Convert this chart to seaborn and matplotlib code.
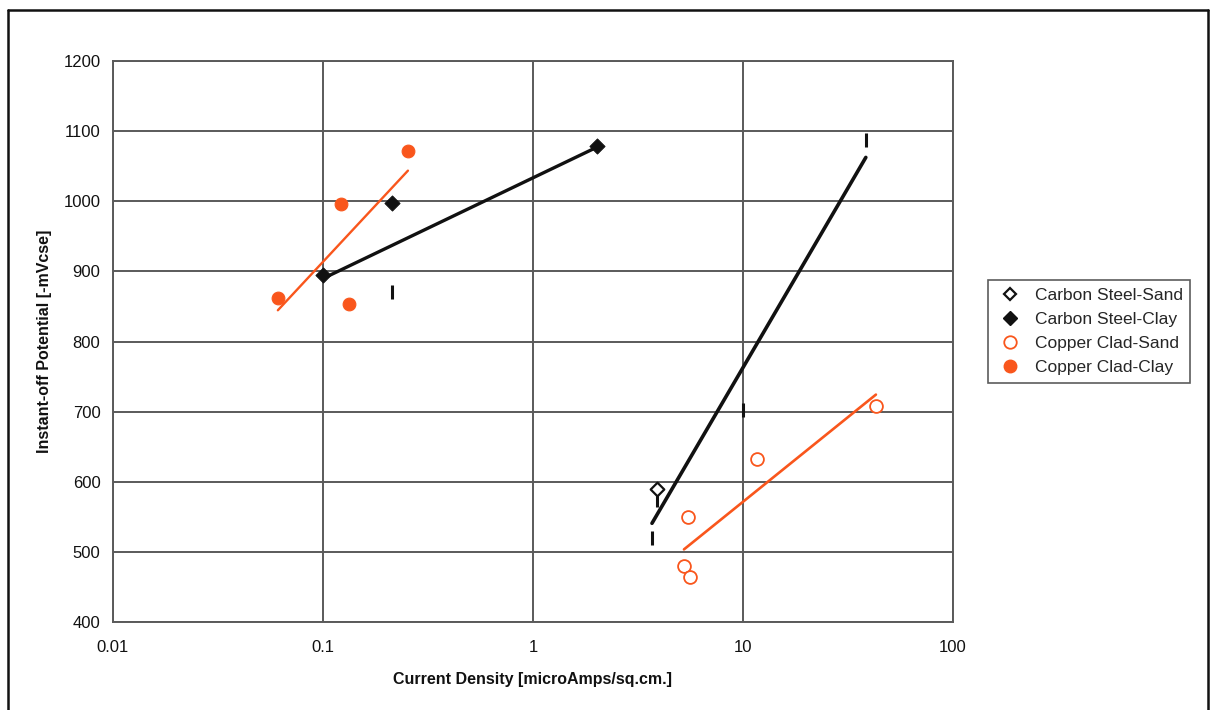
import numpy as np
import pandas as pd
import matplotlib
matplotlib.use("Agg")
import matplotlib.pyplot as plt
from matplotlib.ticker import FixedLocator, FixedFormatter, NullLocator
from matplotlib.lines import Line2D
import seaborn as sns

# Values
cs_sand_x = [3.69, 3.9, 3.9, 10.0, 38.5]
cs_sand_y = [520, 589, 574, 702, 1087]
cs_sand_faded = [True, False, True, True, True]   # markers that only survive as a dash in the scan

cs_clay_x = [0.1, 0.213, 0.213, 2.02]
cs_clay_y = [895, 997, 870, 1079]
cs_clay_faded = [False, False, True, False]

cc_sand_x = [5.24, 5.6, 5.47, 11.7, 43.0]
cc_sand_y = [480, 464, 550, 632, 708]

cc_clay_x = [0.061, 0.122, 0.133, 0.254]
cc_clay_y = [862, 996, 853, 1072]

x_ticks = [0.01, 0.1, 1, 10, 100]
x_tick_labels = ["0.01", "0.1", "1", "10", "100"]
y_ticks = list(range(400, 1201, 100))

ORANGE = "#F9561C"
GRID = "#5a5a5a"


def log_trend(x, y):
    # Excel style logarithmic trendline, y = a*ln(x) + b, over the data range
    a, b = np.polyfit(np.log(x), y, 1)
    xs = np.array([min(x), max(x)])
    return pd.DataFrame({"x": xs, "y": a * np.log(xs) + b})


sns.set_theme(style="white")
plt.rcParams["font.family"] = ["Liberation Sans", "DejaVu Sans"]

fig = plt.figure(figsize=(12.12, 7.10), dpi=100)
ax = fig.add_axes([0.0932, 0.124, 0.693, 0.790])

# trend lines
sns.lineplot(data=log_trend(cs_sand_x, cs_sand_y), x="x", y="y", ax=ax,
             color="#111111", lw=2.6, solid_capstyle="round")
sns.lineplot(data=log_trend(cs_clay_x, cs_clay_y), x="x", y="y", ax=ax,
             color="#111111", lw=2.4, solid_capstyle="round")
sns.lineplot(data=log_trend(cc_sand_x, cc_sand_y), x="x", y="y", ax=ax,
             color=ORANGE, lw=1.9)
sns.lineplot(data=log_trend(cc_clay_x, cc_clay_y), x="x", y="y", ax=ax,
             color=ORANGE, lw=1.7)

cs_sand = pd.DataFrame({"x": cs_sand_x, "y": cs_sand_y, "faded": cs_sand_faded})
cs_clay = pd.DataFrame({"x": cs_clay_x, "y": cs_clay_y, "faded": cs_clay_faded})

# faded markers drawn as short dashes
faded = pd.concat([cs_sand[cs_sand.faded], cs_clay[cs_clay.faded]])
sns.scatterplot(data=faded, x="x", y="y", ax=ax, marker="|", s=110,
                color="#111111", linewidths=2.2, zorder=4)

sns.scatterplot(data=cs_sand[~cs_sand.faded], x="x", y="y", ax=ax, marker="D",
                s=48, facecolor="white", edgecolor="#111111", linewidth=1.6, zorder=5)
sns.scatterplot(data=cs_clay[~cs_clay.faded], x="x", y="y", ax=ax, marker="D",
                s=60, color="#111111", edgecolor="#111111", zorder=5)
sns.scatterplot(x=cc_sand_x, y=cc_sand_y, ax=ax, marker="o", s=85,
                facecolor="white", edgecolor=ORANGE, linewidth=1.3, zorder=5)
sns.scatterplot(x=cc_clay_x, y=cc_clay_y, ax=ax, marker="o", s=85,
                color=ORANGE, edgecolor=ORANGE, zorder=5)

ax.set_xscale("log")
ax.set_xlim(0.01, 100)
ax.set_ylim(400, 1200)
ax.xaxis.set_major_locator(FixedLocator(x_ticks))
ax.xaxis.set_major_formatter(FixedFormatter(x_tick_labels))
ax.xaxis.set_minor_locator(NullLocator())
ax.set_yticks(y_ticks)

ax.grid(True, which="major", color=GRID, lw=1.4)
for s in ax.spines.values():
    s.set_color(GRID)
    s.set_linewidth(1.4)
ax.tick_params(axis="both", which="major", direction="out", length=5, width=1.2,
               color=GRID, labelsize=12, labelcolor="#111111", pad=4)
ax.tick_params(axis="x", pad=8)

ax.set_xlabel("Current Density [microAmps/sq.cm.]", fontsize=11.5,
              fontweight="bold", color="#111111", labelpad=12)
ax.set_ylabel("Instant-off Potential [-mVcse]", fontsize=11.5,
              fontweight="bold", color="#111111", labelpad=8)

handles = [
    Line2D([], [], ls="", marker="D", ms=6.5, mfc="white", mec="#111111", mew=1.6),
    Line2D([], [], ls="", marker="D", ms=7, mfc="#111111", mec="#111111"),
    Line2D([], [], ls="", marker="o", ms=9, mfc="white", mec=ORANGE, mew=1.3),
    Line2D([], [], ls="", marker="o", ms=9, mfc=ORANGE, mec=ORANGE),
]
labels = ["Carbon Steel-Sand", "Carbon Steel-Clay", "Copper Clad-Sand", "Copper Clad-Clay"]
leg = fig.legend(handles, labels, loc="upper left", bbox_to_anchor=(0.815, 0.605),
                 fontsize=12.5, frameon=True, fancybox=False, edgecolor="#333333",
                 handletextpad=0.55, borderpad=0.45, labelspacing=0.5, handlelength=1.7,
                 borderaxespad=0.0)
leg.get_frame().set_linewidth(1.2)

# outer border of the chart area
fig.add_artist(Line2D([0.007, 0.007], [0.0, 0.986], color="#111111", lw=1.8))
fig.add_artist(Line2D([0.007, 0.997], [0.986, 0.986], color="#111111", lw=1.8))
fig.add_artist(Line2D([0.997, 0.997], [0.0, 0.986], color="#111111", lw=1.8))

fig.savefig("out.png", dpi=100)
